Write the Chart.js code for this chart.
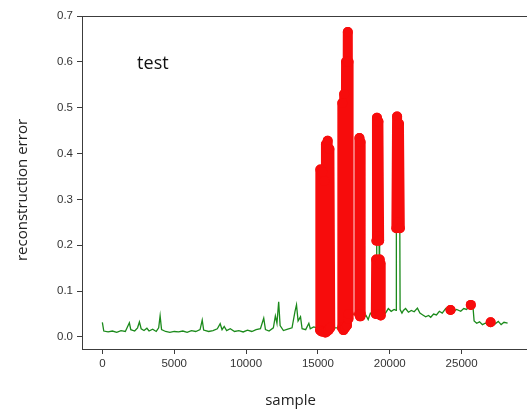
<!DOCTYPE html>
<html>
<head>
<meta charset="utf-8">
<script src="https://cdn.jsdelivr.net/npm/chart.js@4.4.1/dist/chart.umd.min.js"></script>
<style>
  html, body { margin: 0; padding: 0; background: #fff; overflow: hidden; }
  #wrap { width: 527px; height: 410px; overflow: hidden; }
</style>
</head>
<body>
<div id="wrap"><canvas id="chart" width="560" height="410"></canvas></div>
<script>
// sample index, reconstruction error, anomaly group (0 = normal, n = flagged burst n)
const sample = [
  0, 100, 400, 700, 1000, 1300, 1600, 1880, 1980, 2250, 2450, 2580, 2700, 2900, 3100, 3250,
  3500, 3750, 3920, 4020, 4120, 4400, 4700, 5000, 5300, 5600, 5900, 6200, 6500, 6800, 6950, 7050,
  7400, 7700, 8000, 8200, 8330, 8480, 8650, 8900, 9200, 9500, 9800, 10100, 10400, 10700, 11000, 11230,
  11350, 11600, 11900, 12040, 12150, 12270, 12370, 12600, 12900, 13200, 13400, 13510, 13620, 13790, 13900, 14150,
  14370, 14470, 14700, 14950,
  15150, 15170, 15250, 15300, 15380, 15440, 15500, 15560, 15620, 15680, 15740, 15800, 15860,
  16680, 16700, 16780, 16830, 16900, 16960, 17020, 17080, 17110, 17130, 17140,
  17870, 17890, 17930, 17960, 17990,
  18150, 18350, 18500, 18650, 18850,
  19030, 19055, 19075, 19110, 19160, 19210, 19260, 19280, 19310, 19340, 19370,
  19500, 19700, 19900, 20100, 20300, 20440,
  20460, 20510, 20580, 20640, 20700,
  20720, 20850, 20950, 21100, 21300, 21500, 21700, 21925, 22100, 22300, 22500, 22700, 22850, 23050, 23250, 23450,
  23650, 23890, 24050, 24230, 24450, 24650, 24940, 25150, 25350, 25500, 25640, 25800, 25870, 26050, 26250, 26450,
  26650, 26850, 27020, 27300, 27550, 27750, 27950, 28200
];
const error = [
  .032, .013, .011, .013, .010, .014, .012, .031, .016, .013, .020, .033, .018, .014, .019, .013,
  .017, .012, .020, .046, .016, .012, .010, .012, .011, .013, .010, .014, .012, .016, .037, .015,
  .012, .014, .018, .029, .016, .023, .014, .018, .012, .014, .011, .015, .012, .016, .018, .041,
  .016, .013, .020, .046, .030, .077, .025, .014, .017, .020, .055, .070, .035, .044, .018, .016,
  .030, .018, .022, .020,
  .015, .365, .012, .360, .012, .340, .010, .420, .012, .428, .015, .410, .020,
  .020, .510, .015, .530, .020, .600, .025, .665, .040, .600, .050,
  .050, .434, .045, .425, .050,
  .042, .047, .038, .052, .045,
  .050, .169, .210, .478, .220, .470, .210, .169, .050, .160, .047,
  .058, .052, .062, .056, .060, .058,
  .237, .481, .250, .465, .237,
  .060, .052, .058, .062, .054, .058, .055, .063, .052, .048, .044, .047, .043, .050, .048, .056,
  .052, .062, .055, .059, .056, .060, .056, .062, .060, .066, .070, .062, .035, .030, .033, .027,
  .030, .028, .032, .028, .034, .027, .032, .030
];
const group = [
  0, 0, 0, 0, 0, 0, 0, 0, 0, 0, 0, 0, 0, 0, 0, 0,
  0, 0, 0, 0, 0, 0, 0, 0, 0, 0, 0, 0, 0, 0, 0, 0,
  0, 0, 0, 0, 0, 0, 0, 0, 0, 0, 0, 0, 0, 0, 0, 0,
  0, 0, 0, 0, 0, 0, 0, 0, 0, 0, 0, 0, 0, 0, 0, 0,
  0, 0, 0, 0,
  1, 1, 1, 1, 1, 1, 1, 1, 1, 1, 1, 1, 1,
  2, 2, 2, 2, 2, 2, 2, 2, 2, 2, 2,
  3, 3, 3, 3, 3,
  0, 0, 0, 0, 0,
  4, 4, 5, 5, 5, 5, 5, 6, 6, 6, 6,
  0, 0, 0, 0, 0, 0,
  7, 7, 7, 7, 7,
  0, 0, 0, 0, 0, 0, 0, 0, 0, 0, 0, 0, 0, 0, 0, 0,
  0, 0, 0, 8, 0, 0, 0, 0, 0, 0, 9, 0, 0, 0, 0, 0,
  0, 0, 10, 0, 0, 0, 0, 0
];
const xTicks = [0, 5000, 10000, 15000, 20000, 25000];
const yTicks = [0, 0.1, 0.2, 0.3, 0.4, 0.5, 0.6, 0.7];

const lineData = sample.map((x, i) => ({ x: x, y: error[i] }));
const flagged = [];
sample.forEach((x, i) => {
  if (!group[i]) return;
  if (flagged.length && group[i] !== group[i - 1]) flagged.push({ x: x, y: null });
  flagged.push({ x: x, y: error[i] });
});

const tickFont = { family: 'Liberation Sans', size: 11.5 };
const axisColor = '#3c3c3c';

const extras = {
  id: 'extras',
  afterDraw(chart) {
    const { ctx, chartArea: a, scales: { x, y } } = chart;
    ctx.save();
    // top spine
    ctx.strokeStyle = axisColor;
    ctx.lineWidth = 1;
    ctx.beginPath();
    ctx.moveTo(a.left, a.top + 0.5);
    ctx.lineTo(a.right, a.top + 0.5);
    ctx.stroke();

    ctx.fillStyle = '#111';
    ctx.textBaseline = 'middle';
    ctx.font = '18px "Open Sans"';
    ctx.fillText('test', x.getPixelForValue(2420), y.getPixelForValue(0.595));

    ctx.fillStyle = '#222';
    ctx.textAlign = 'center';
    ctx.font = '15px "Open Sans"';
    ctx.fillText('sample', x.getPixelForValue(13100), 401);

    ctx.translate(23, 190);
    ctx.rotate(-Math.PI / 2);
    ctx.fillText('reconstruction error', 0, 0);
    ctx.restore();
  }
};

new Chart(document.getElementById('chart'), {
  type: 'scatter',
  data: {
    datasets: [
      {
        data: flagged,
        showLine: true,
        spanGaps: false,
        borderColor: '#f70c0c',
        borderWidth: 10,
        borderCapStyle: 'round',
        borderJoinStyle: 'round',
        pointRadius: 5,
        pointBorderWidth: 0,
        pointBackgroundColor: '#f70c0c',
        order: 0
      },
      {
        data: lineData,
        showLine: true,
        borderColor: '#1b8a1b',
        borderWidth: 1.3,
        pointRadius: 0,
        order: 1
      }
    ]
  },
  options: {
    responsive: false,
    devicePixelRatio: 1,
    animation: false,
    events: [],
    layout: { padding: { left: 0, right: 0, top: 16, bottom: 0 } },
    plugins: { legend: { display: false }, tooltip: { enabled: false } },
    scales: {
      x: {
        type: 'linear',
        min: -1416,
        max: 31499,
        afterBuildTicks: s => { s.ticks = xTicks.map(v => ({ value: v })); },
        afterFit: s => { s.height = 61; },
        ticks: { font: tickFont, color: '#333', padding: 3, maxRotation: 0, autoSkip: false, callback: v => String(v) },
        grid: { drawOnChartArea: false, drawTicks: true, tickLength: 5, color: axisColor },
        border: { display: true, color: axisColor, width: 1 }
      },
      y: {
        min: -0.0262,
        max: 0.7,
        afterBuildTicks: s => { s.ticks = yTicks.map(v => ({ value: v })); },
        afterFit: s => { s.width = 82; },
        ticks: { font: tickFont, color: '#333', padding: 4, callback: v => v.toFixed(1) },
        grid: { drawOnChartArea: false, drawTicks: true, tickLength: 5, color: axisColor },
        border: { display: true, color: axisColor, width: 1 }
      }
    }
  },
  plugins: [extras]
});
</script>
</body>
</html>
